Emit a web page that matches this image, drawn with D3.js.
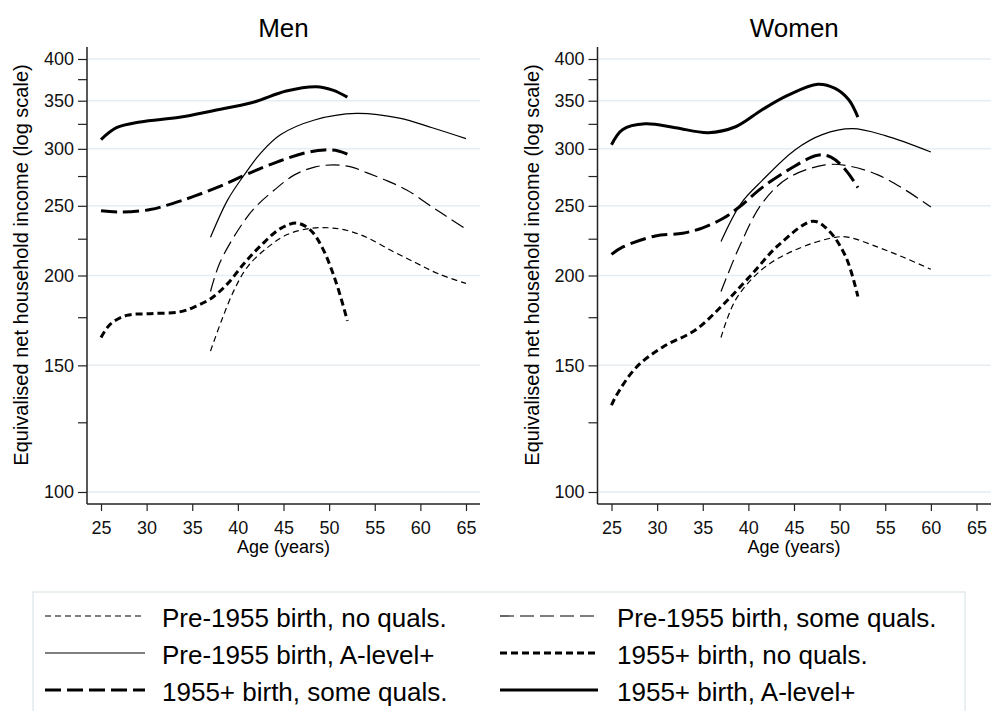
<!DOCTYPE html>
<html>
<head>
<meta charset="utf-8">
<script src="https://cdn.jsdelivr.net/npm/d3@7"></script>
<style>
  body { margin: 0; background: #fff; }
  svg { display: block; font-family: "Liberation Sans", Arial, sans-serif; }
</style>
</head>
<body>
<svg id="chart" width="991" height="711"></svg>
<script>
// tick values
const ageTicks = [25, 30, 35, 40, 45, 50, 55, 60, 65];
const incomeTicks = [100, 150, 200, 250, 300, 350, 400];
const incomeMinor = [125, 175, 225, 275, 325, 375];

// series: [age, equivalised income]
const menPreNone = [[37,157],[38.2,173],[39.6,191],[41.1,206],[43.3,219],[45.4,228],[48,232.6],[50,233],[52,231],[54.1,226],[57,216],[59.6,208],[62,201],[65,195]];
const menPreSome = [[37,190],[38,208],[40,231],[41.8,248],[44,263],[46.2,276],[48.4,283],[50.5,285],[52.5,283],[54.1,278],[56,272],[58.5,263],[61.3,249],[63,241],[65,232]];
const menPreAlev = [[37,226],[38.9,255],[40.7,276],[42.5,296],[44.7,314],[48.4,329],[53,336],[57.7,331],[61.3,321],[65,310]];
const menPostNone = [[25,164],[26,171],[27.8,176],[30.4,177],[33.6,178],[35.3,181],[37.1,186],[38.9,195],[40.7,208],[42.5,220],[44.7,232.6],[46.5,236.5],[48,231],[49.3,218],[50.8,195],[52,173]];
const menPostSome = [[25,246],[27,245],[30.4,247],[32.9,252],[35.3,258],[38.9,269],[41.1,277],[44.4,288],[47.3,296],[49.5,299],[51,298],[52,295]];
const menPostAlev = [[25,309],[26.7,321],[29.3,327],[33.6,332],[37.3,339],[41.6,348],[45.3,361],[48.6,366],[50.4,362],[52,354]];

const womenPreNone = [[37,164],[38.6,185],[41.5,204],[45.1,217],[49.5,226],[51,226],[54.2,219],[57,212],[60,204]];
const womenPreSome = [[37,190],[39.2,222],[41.5,252],[44.3,273],[48.4,285],[51,284],[54.2,276],[57.2,263],[60,249]];
const womenPreAlev = [[37,223],[39.2,252],[41.5,271],[45.1,299],[48.1,314],[51.4,320],[55,313],[60,297]];
const womenPostNone = [[25,132],[25.5,136],[27.7,149],[30.6,159],[34.2,168],[37.2,182],[40.1,199],[43.4,221],[47.1,238],[48.8,231],[50.7,212],[52,187]];
const womenPostSome = [[25,214],[26.2,219],[29.8,227],[32.8,229],[35,233],[37.2,240],[39,249],[41.5,265],[44.3,280],[47.6,294],[49.1,292],[50.7,280],[52,265]];
const womenPostAlev = [[25,304],[26.2,319],[28.7,325],[32,321],[35.6,316],[38.6,322],[41.5,340],[44.3,356],[47.6,369],[49.5,364],[51,351],[52,332]];

const seriesLabels = [
  "Pre-1955 birth, no quals.",
  "Pre-1955 birth, some quals.",
  "Pre-1955 birth, A-level+",
  "1955+ birth, no quals.",
  "1955+ birth, some quals.",
  "1955+ birth, A-level+"
];

// line look for each series (same order as the labels)
const seriesStyles = [
  { width: 1.2, dash: "6,4" },
  { width: 1.2, dash: "14,6" },
  { width: 1.2, dash: null },
  { width: 3, dash: "7,4" },
  { width: 3, dash: "16,6" },
  { width: 3, dash: null }
];

const panels = [
  { title: "Men", offset: 0, right: 480, series: [menPreNone, menPreSome, menPreAlev, menPostNone, menPostSome, menPostAlev] },
  { title: "Women", offset: 510.5, right: 991, series: [womenPreNone, womenPreSome, womenPreAlev, womenPostNone, womenPostSome, womenPostAlev] }
];

const AXIS_X = 87;      // y axis position of first panel
const AXIS_Y = 504;     // x axis position
const PLOT_TOP = 47;
const GRID = "#e6edf2";

const svg = d3.select("#chart");
const y = d3.scaleLog().domain([100, 400]).range([492, 59]);

function drawPanel(p) {
  const g = svg.append("g");
  const left = AXIS_X + p.offset;
  const x = d3.scaleLinear().domain([25, 65]).range([101 + p.offset, 466 + p.offset]);

  // gridlines
  g.append("g").selectAll("line").data(incomeTicks).join("line")
    .attr("x1", left + 1).attr("x2", p.right)
    .attr("y1", d => y(d)).attr("y2", d => y(d))
    .attr("stroke", GRID).attr("stroke-width", 1.5);

  // y axis (major + minor ticks)
  const ya = g.append("g").attr("transform", `translate(${left},0)`)
    .call(d3.axisLeft(y).tickValues(incomeTicks).tickSize(9).tickPadding(4).tickFormat(d3.format("d")));
  ya.select(".domain").remove();
  const ym = g.append("g").attr("transform", `translate(${left},0)`)
    .call(d3.axisLeft(y).tickValues(incomeMinor).tickSize(9).tickFormat(""));
  ym.select(".domain").remove();

  // x axis
  const xa = g.append("g").attr("transform", `translate(0,${AXIS_Y})`)
    .call(d3.axisBottom(x).tickValues(ageTicks).tickSize(7).tickPadding(10));
  xa.select(".domain").remove();

  g.selectAll(".tick line").attr("stroke", "#222").attr("stroke-width", 1.2);
  g.selectAll(".tick text").attr("fill", "#111").style("font-size", "18px")
    .style("font-family", '"Liberation Sans", Arial, sans-serif');

  // axis lines
  g.append("line").attr("x1", left).attr("x2", left).attr("y1", PLOT_TOP).attr("y2", AXIS_Y)
    .attr("stroke", "#222").attr("stroke-width", 1.5);
  g.append("line").attr("x1", left).attr("x2", p.right).attr("y1", AXIS_Y).attr("y2", AXIS_Y)
    .attr("stroke", "#222").attr("stroke-width", 1.5);

  // curves
  const line = d3.line()
    .x(d => x(d[0])).y(d => y(d[1]))
    .curve(d3.curveCatmullRom.alpha(0.5));
  g.append("g").selectAll("path").data(p.series).join("path")
    .attr("d", line)
    .attr("fill", "none")
    .attr("stroke", "#000")
    .attr("stroke-width", (d, i) => seriesStyles[i].width)
    .attr("stroke-dasharray", (d, i) => seriesStyles[i].dash);

  // texts
  g.append("text").attr("x", (left + p.right) / 2).attr("y", 37)
    .attr("text-anchor", "middle").style("font-size", "26px").text(p.title);
  g.append("text").attr("x", x(45)).attr("y", 553)
    .attr("text-anchor", "middle").style("font-size", "18px").text("Age (years)");
  g.append("text").attr("transform", `translate(${28 + p.offset},265) rotate(-90)`)
    .attr("text-anchor", "middle").style("font-size", "20px")
    .text("Equivalised net household income (log scale)");
}

panels.forEach(drawPanel);

// legend
const legend = svg.append("g");
legend.append("rect").attr("x", 33).attr("y", 592).attr("width", 932).attr("height", 140)
  .attr("fill", "#fff").attr("stroke", "#e3eaee").attr("stroke-width", 1.5);

const rowY = [616, 653, 690];
const colX = [{ l0: 45, l1: 145, t: 162 }, { l0: 500, l1: 598, t: 617 }];

seriesLabels.forEach((label, i) => {
  const r = Math.floor(i / 2), c = colX[i % 2];
  legend.append("line").attr("x1", c.l0).attr("x2", c.l1)
    .attr("y1", rowY[r]).attr("y2", rowY[r])
    .attr("stroke", "#000")
    .attr("stroke-width", seriesStyles[i].width)
    .attr("stroke-dasharray", seriesStyles[i].dash);
  legend.append("text").attr("x", c.t).attr("y", rowY[r] + 11)
    .style("font-size", "26px").text(label);
});
</script>
</body>
</html>
